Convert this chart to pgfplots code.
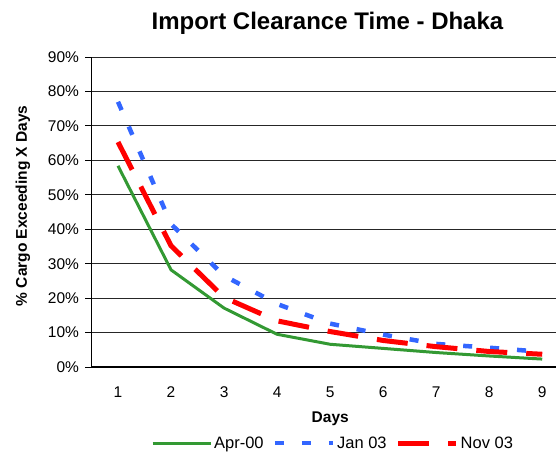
\documentclass[border=0pt]{standalone}
\usepackage{fontspec}
\setmainfont{Liberation Sans}
\usepackage{pgfplots}
\pgfplotsset{compat=1.18}
\definecolor{cgreen}{RGB}{51,153,51}
\definecolor{cblue}{RGB}{51,102,255}
\definecolor{cred}{RGB}{255,0,0}
\begin{document}
\begin{tikzpicture}[x=1pt,y=1pt]
\path[use as bounding box] (0,0) rectangle (556,453);
\begin{axis}[
  at={(91.5pt,86pt)}, anchor=south west,
  scale only axis, width=464.5pt, height=310pt,
  xmin=0.5, xmax=9.26, ymin=0, ymax=90,
  axis x line*=bottom, axis y line*=left,
  axis line style={black, line width=1.2pt},
  /pgf/number format/assume math mode=true,
  tick align=outside,
  xtick={1,2,3,4,5,6,7,8,9},
  xtick style={draw=none},
  minor xtick={1.5,2.5,3.5,4.5,5.5,6.5,7.5,8.5},
  minor tick length=6pt, major tick length=6pt,
  minor tick style={black!60, line width=1pt},
  ytick={0,10,20,30,40,50,60,70,80,90},
  ytick style={black, line width=1pt},
  yticklabel={\pgfmathprintnumber{\tick}\%},
  ticklabel style={font=\fontsize{15.5}{18}\selectfont},
  yticklabel style={xshift=-3pt},
  xticklabel style={yshift=-10pt},
  ymajorgrids, major grid style={black!85, line width=0.9pt},
  xlabel={Days}, ylabel={\% Cargo Exceeding X Days},
  label style={font=\bfseries\fontsize{15.5}{18}\selectfont},
  xlabel style={at={(axis description cs:0.514,0)}, anchor=center, yshift=-52pt},
  ylabel style={at={(axis description cs:-0.1475,0.52)}, anchor=center},
  title={Import Clearance Time - Dhaka},
  title style={font=\bfseries\fontsize{24}{28}\selectfont, at={(axis description cs:0.508,1)}, anchor=center, yshift=28pt},
  legend columns=3,
  legend style={draw=none, fill=none, at={(axis description cs:0.52,0)}, anchor=center, yshift=-76pt,
    font=\fontsize{16.5}{20}\selectfont,
    /tikz/every even column/.append style={column sep=7pt}},
  legend image code/.code={\draw[#1] (0pt,0pt) -- (58pt,0pt);},
  clip=true,
]
\addplot[cgreen, line width=3pt] coordinates {
(1,58.4) (2,28.2) (3,17.1) (4,9.5) (5,6.6) (6,5.4) (7,4.2) (8,3.2) (9,2.3)};
\addlegendentry{Apr-00}
\addplot[cblue, line width=4.5pt, dash pattern=on 9pt off 18pt] coordinates {
(1,77.0) (2,41.5) (3,26.5) (4,18.3) (5,12.6) (6,9.4) (7,6.7) (8,5.6) (9,4.4)};
\addlegendentry{Jan 03}
\addplot[cred, line width=5pt, dash pattern=on 31pt off 19pt] coordinates {
(1,65.3) (2,35.2) (3,20.2) (4,13.4) (5,10.3) (6,7.7) (7,5.9) (8,4.5) (9,3.7)};
\addlegendentry{Nov 03}
\end{axis}
\end{tikzpicture}
\end{document}
